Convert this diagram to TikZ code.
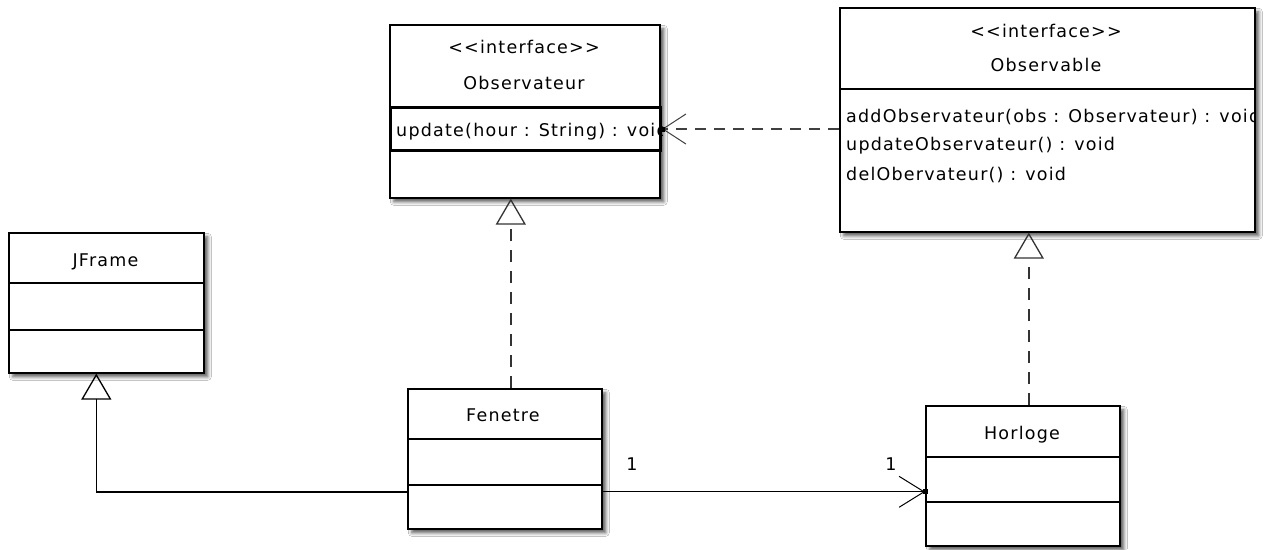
\documentclass[tikz,border=0pt]{standalone}
\usepackage{fontspec}
\newfontfamily\umlfont{DejaVu Sans}[LetterSpace=7]
\usetikzlibrary{arrows.meta,shadows.blur}
\tikzset{
  cls/.style={draw, line width=1.6pt, fill=white, inner sep=0pt, anchor=north west,
    blur shadow={shadow xshift=4pt, shadow yshift=-4pt, shadow blur radius=3.5pt, shadow opacity=65}},
  div/.style={line width=1.5pt},
  txt/.style={font=\umlfont\fontsize{17.5pt}{21pt}\selectfont, inner sep=0pt, text=black},
  title/.style={txt, anchor=base},
  meth/.style={txt, anchor=base west},
  gen/.style={line width=1.4pt, -{Triangle[open, length=26pt, width=30pt, line width=1.3pt]}},
  real/.style={gen, line width=1.6pt, dash pattern=on 12pt off 9pt, draw=black!80},
  assoc/.style={line width=1.3pt, -{Straight Barb[length=25pt, width=31pt, line width=1pt]}},
  dep/.style={line width=1.5pt, draw=black!75, dash pattern=on 11pt off 8pt, -{Straight Barb[length=23pt, width=30pt, line width=1pt]}},
  sel/.style={draw, line width=3pt, inner sep=0pt, anchor=north west}
}
\begin{document}
\begin{tikzpicture}[x=1pt, y=-1pt]
\useasboundingbox[fill=white] (0,0) rectangle (1264,549);

% ---- Observateur
\node[cls, minimum width=270pt, minimum height=173pt] (obsr) at (389,24) {};
\node[title] (obsrst) at (524,53) {<<interface>>};
\node[title] (obsrnm) at (524,89) {Observateur};
\node[sel, minimum width=270pt, minimum height=43pt] (obsrm) at (389,106) {};
\begin{scope}
  \clip (obsrm.north west) rectangle (obsrm.south east);
  \node[meth] (obsrop) at (396,136) {update(hour : String) : void};
\end{scope}

% ---- Observable
\node[cls, minimum width=415pt, minimum height=224pt] (obsv) at (839,7) {};
\draw[div] (839,89) -- (1254,89);
\node[title] (obsvst) at (1046,37) {<<interface>>};
\node[title] (obsvnm) at (1046,71) {Observable};
\begin{scope}
  \clip (obsv.north west) rectangle (obsv.south east);
  \node[meth] (obsvop1) at (846,122) {addObservateur(obs : Observateur) : void};
\end{scope}
\node[meth] (obsvop2) at (846,150) {updateObservateur() : void};
\node[meth] (obsvop3) at (846,180) {delObervateur() : void};

% ---- JFrame
\node[cls, minimum width=195pt, minimum height=140pt] (jf) at (8,232) {};
\draw[div] (8,283) -- (203,283);
\draw[div] (8,330) -- (203,330);
\node[title] (jfnm) at (105.5,266) {JFrame};

% ---- Fenetre
\node[cls, minimum width=194pt, minimum height=140pt] (fen) at (407,388) {};
\draw[div] (407,439) -- (601,439);
\draw[div] (407,485) -- (601,485);
\node[title] (fennm) at (503,421) {Fenetre};

% ---- Horloge
\node[cls, minimum width=194pt, minimum height=140pt] (hor) at (925,405) {};
\draw[div] (925,457) -- (1119,457);
\draw[div] (925,502) -- (1119,502);
\node[title] (hornm) at (1022,439) {Horloge};

% ---- connectors
\draw[gen] ([yshift=-33pt]fen.west) -| ([xshift=-10pt]jf.south);
\draw[real] ([xshift=6pt]fen.north) -- ([xshift=6pt]fen.north |- obsr.south);
\draw[real] ([xshift=6pt]hor.north) -- ([xshift=6pt]hor.north |- obsv.south);
\draw[assoc] ([yshift=-33pt]fen.east) -- ([yshift=-33pt]fen.east -| hor.west);
\draw[dep] (obsrm.east -| obsv.west) -- (obsrm.east);

\fill ([shift={(-2.5pt,-2.5pt)}]obsrm.east) rectangle +(5pt,5pt);
\fill ([shift={(-2.5pt,-2.5pt)}]hor.west |- 0,491) rectangle +(5pt,5pt);

\node[title] (m1) at (632,470) {1};
\node[title] (m2) at (891,470) {1};
\end{tikzpicture}
\end{document}
